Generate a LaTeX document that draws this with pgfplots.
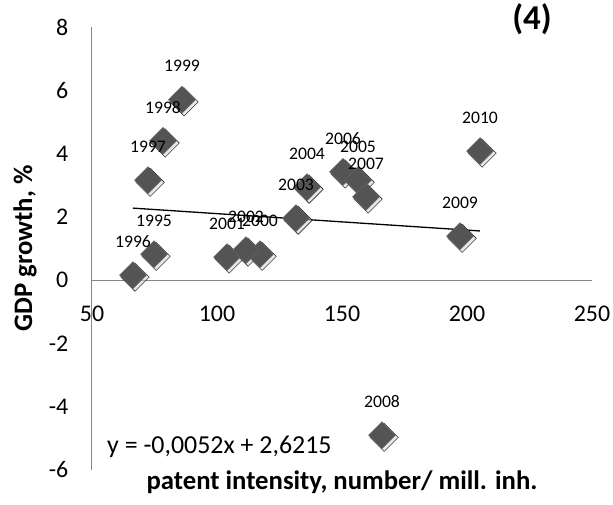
\documentclass[border=0pt]{standalone}
\usepackage{pgfplots}
\pgfplotsset{compat=1.18}
\usepackage{fontspec}
\setmainfont{Carlito}
\definecolor{axgray}{RGB}{134,134,134}
\definecolor{mk}{RGB}{84,84,84}
\definecolor{mkedge}{RGB}{100,100,100}
\pgfplotstableread{
x y lab
74.8 0.82 1995
66.4 0.16 1996
72.4 3.16 1997
78.4 4.40 1998
86.0 5.70 1999
117.2 0.82 2000
104.0 0.73 2001
111.6 0.95 2002
131.6 1.96 2003
136.0 2.94 2004
150.4 3.42 2006
156.4 3.16 2005
159.6 2.63 2007
166.0 -4.90 2008
197.2 1.39 2009
205.2 4.08 2010
}\datatable
\begin{document}
\begin{tikzpicture}
\begin{axis}[
  at={(0,0)}, anchor=south west,
  scale only axis, width=500bp, height=443bp,
  xmin=50, xmax=250, ymin=-6, ymax=8,
  axis x line=middle, axis y line=left,
  axis line style={axgray, line width=1bp, -},
  xtick={50,100,...,250}, ytick={-6,-4,...,8},
  major tick length=0pt,
  hide obscured x ticks=false, hide obscured y ticks=false,
  /pgf/number format/assume math mode=true,
  xticklabel style={font=\fontsize{24}{28}\selectfont, anchor=north, inner sep=0pt, yshift=-26bp},
  yticklabel style={font=\fontsize{24}{28}\selectfont, anchor=east, inner sep=0pt, xshift=-23.5bp},
  every axis x label/.style={at={(axis description cs:0.5,0)}, anchor=center, yshift=-12bp, font=\bfseries\fontsize{26.8}{30}\selectfont},
  every axis y label/.style={at={(axis description cs:0,0.5)}, xshift=-67bp, rotate=90, anchor=center, font=\bfseries\fontsize{26.8}{30}\selectfont},
  xlabel={patent intensity, number/ mill. inh.},
  ylabel={GDP growth, \%},
  clip=false,
]
% shadow
\addplot[only marks, mark=square*, mark size=10bp,
  mark options={rotate=45, fill=black!18, draw=none, fill opacity=0.55, yshift=-3bp}]
  table[x=x,y=y] {\datatable};
% trend line
\addplot[black, line width=1.3bp] coordinates {(66.4,2.2762) (205.2,1.5545)};
% points
\addplot[only marks, mark=square*, mark size=9.5bp,
  mark options={rotate=45, fill=mk, draw=mkedge, line width=0.5bp}]
  table[x=x,y=y] {\datatable};
% labels
\addplot[draw=none, mark=none,
  point meta=explicit symbolic,
  nodes near coords,
  every node near coord/.append style={anchor=center, inner sep=0pt, yshift=33.5bp, font=\fontsize{17.7}{20}\selectfont, text=black}]
  table[x=x,y=y,meta=lab] {\datatable};
\node[anchor=base west, inner sep=0pt, font=\fontsize{26}{30}\selectfont] at (axis cs:56,-5.47) {y = -0,0052x + 2,6215};
\node[anchor=center, inner sep=0pt, font=\bfseries\fontsize{35}{40}\selectfont] at (axis cs:226,8.26) {(4)};
\end{axis}
\pgfresetboundingbox
\useasboundingbox (-92bp,-35bp) rectangle (521bp,470bp);
\end{tikzpicture}
\end{document}
